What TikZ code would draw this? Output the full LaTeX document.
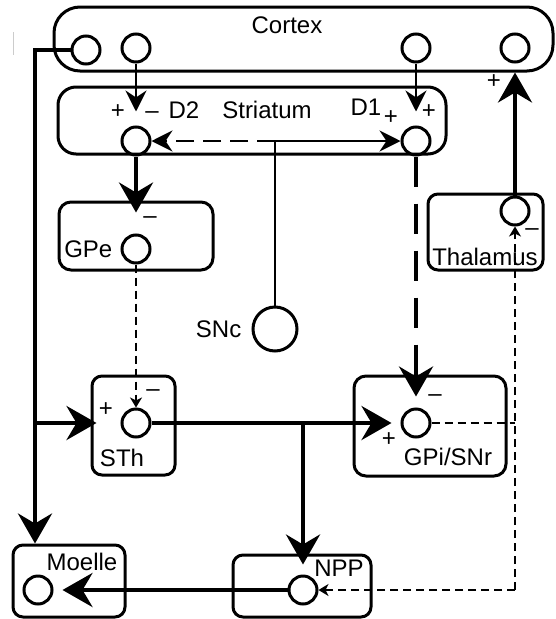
\documentclass[tikz,border=0pt]{standalone}
\usepackage{fontspec}
\setmainfont{Liberation Sans}
\usetikzlibrary{positioning, arrows.meta}

\begin{document}
\begin{tikzpicture}[x=1pt,y=-1pt,font=\fontsize{24}{26}\selectfont,
    region/.style={draw,line width=3pt,inner sep=0pt},
    cell/.style={circle,draw,line width=3pt,minimum size=28pt,inner sep=0pt},
    lbl/.style={inner sep=0pt},
    big/.style={line width=4pt,-{Stealth[length=30pt,width=34pt,inset=10pt]}},
    med/.style={line width=2.6pt,-{Stealth[length=21pt,width=21pt,inset=7pt]}},
    weak/.style={line width=1.6pt,dash pattern=on 8pt off 5pt,-{Stealth[length=10pt,width=12pt,inset=3pt]}}]

\useasboundingbox (0,0) rectangle (556,619);

% regions
\node[region,minimum width=499pt,minimum height=64pt,rounded corners=26pt] (cortex)   at (303.5,39)  {};
\node[region,minimum width=388pt,minimum height=67pt,rounded corners=18pt] (striatum) at (252,120.5)  {};
\node[region,minimum width=154pt,minimum height=68pt,rounded corners=12pt] (gpe)      at (136,236)   {};
\node[region,minimum width=115pt,minimum height=76pt,rounded corners=10pt] (thal)     at (485.5,232) {};
\node[region,minimum width=83pt,minimum height=99pt,rounded corners=10pt]  (sth)      at (133.5,425.5) {};
\node[region,minimum width=152pt,minimum height=100pt,rounded corners=12pt] (gpi)     at (430,426)   {};
\node[region,minimum width=112pt,minimum height=72pt,rounded corners=10pt] (moelle)   at (69,581)    {};
\node[region,minimum width=138pt,minimum height=62pt,rounded corners=10pt] (npp)      at (302,586)   {};

% neurons
\node[cell] (c1)   at (86,50)   {};
\node[cell] (c2)   at (136,48)  {};
\node[cell] (c3)   at (416,48)  {};
\node[cell] (c4)   at (515,48)  {};
\node[cell] (d2)   at (136,141) {};
\node[cell] (d1)   at (416,141) {};
\node[cell] (gpeN) at (136,249) {};
\node[cell,minimum size=44pt] (snc) at (275,329) {};
\node[cell] (thN)  at (515,211) {};
\node[cell] (sthN) at (136,423) {};
\node[cell] (gpiN) at (416,423) {};
\node[cell] (moN)  at (38,590)  {};
\node[cell] (nppN) at (303,590) {};

\coordinate (spine) at (35,423);
\coordinate (jn) at (snc |- d2);
\coordinate (br) at (nppN |- sthN);
\coordinate (cr) at (thN |- nppN);

% labels
\node[lbl] at (287,25)  {Cortex};
\node[lbl] at (267,110) {Striatum};
\node[lbl] at (184,110) {D2};
\node[lbl] at (366,107) {D1};
\node[lbl,left=8pt of gpeN] {GPe};
\node[lbl,left=10pt of snc] {SNc};
\node[lbl] at (485,257) {Thalamus};
\node[lbl] at (122,458) {STh};
\node[lbl] at (448,457) {GPi/SNr};
\node[lbl] at (82,562)  {Moelle};
\node[lbl] at (339,568) {NPP};

\node[lbl] at (118,112) {+};
\node[lbl] at (152,115) {–};
\node[lbl] at (391,118) {+};
\node[lbl] at (429,112) {+};
\node[lbl] at (494,82)  {+};
\node[lbl] at (150,220) {–};
\node[lbl] at (532,232) {–};
\node[lbl] at (106,410) {+};
\node[lbl] at (153,393) {–};
\node[lbl] at (435,398) {–};
\node[lbl] at (389,440) {+};

% pathways
\draw[big] (c1.west) -| (moelle.north -| spine);
\draw[big,shorten >=-6pt] (spine) -- (spine -| sth.west);
\draw[med,shorten >=14pt] (c2) -- (d2);
\draw[med,shorten >=14pt] (c3) -- (d1);
\draw[line width=2.6pt] (snc) -- (jn);
\draw[med] (jn) -- (d1);
\draw[med,dash pattern=on 18pt off 9pt] (jn) -- (d2);
\draw[big,shorten >=21pt] (d2) -- (gpeN);
\draw[weak] (gpeN) -- (sthN);
\draw[big,dash pattern=on 30pt off 17pt,shorten >=11pt] (d1) -- (gpiN);
\draw[big,shorten >=9pt] (sthN) -- (gpiN);
\draw[big,shorten >=10pt] (br) -- (nppN);
\draw[big,shorten >=9pt] (nppN) -- (moN);
\draw[big] (thN) -- (thN |- cortex.south);
\draw[weak] (cr) -- (thN);
\draw[weak] (cr) -- (nppN);
\draw[line width=1.6pt,dash pattern=on 8pt off 5pt] (gpiN) -- (gpiN -| cr);

\draw[gray!40,line width=1pt] (13,32) -- (13,55);
\end{tikzpicture}
\end{document}
